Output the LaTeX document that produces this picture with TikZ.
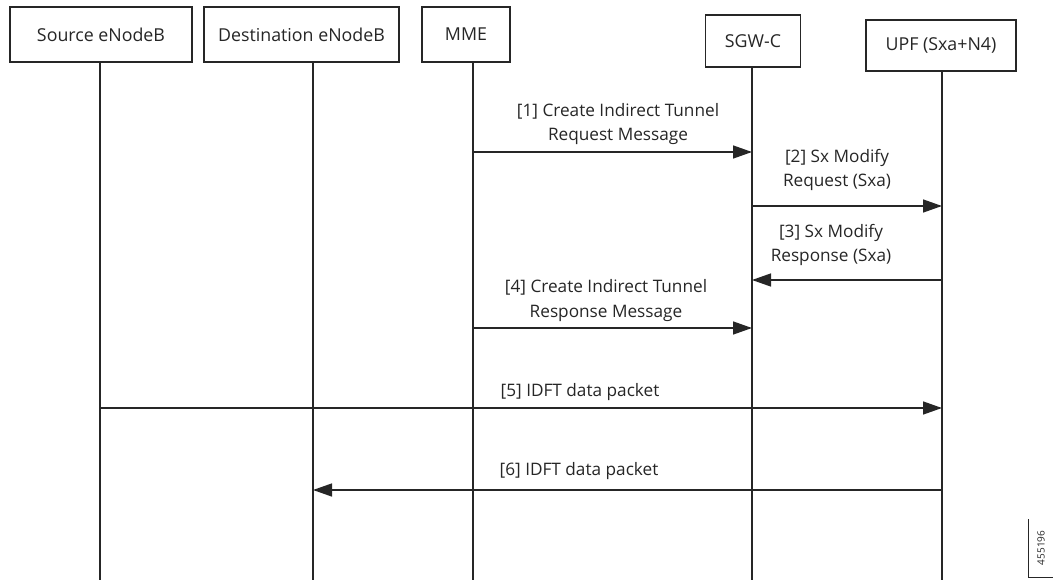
\documentclass[tikz,border=0pt]{standalone}
\usepackage{fontspec}
\setmainfont{Open Sans}
\usetikzlibrary{arrows.meta}
\definecolor{ink}{HTML}{262626}
\tikzset{
  actor/.style={draw=ink, line width=1.3pt, fill=white, inner sep=0pt,
    font=\fontsize{17.8}{20}\selectfont, text=ink},
  life/.style={draw=ink, line width=1.1pt},
  msg/.style={draw=ink, line width=1.4pt, -{Triangle[length=19pt,width=13pt]}},
  lbl/.style={font=\fontsize{17.2}{24.5}\selectfont, text=ink, align=center, inner sep=0pt},
}
\begin{document}
\begin{tikzpicture}[x=1pt,y=-1pt]
\useasboundingbox (0,0) rectangle (1053,580);
% actors
\node[actor, minimum width=182pt, minimum height=55pt] (src) at (101,34.5) {Source eNodeB};
\node[actor, minimum width=195pt, minimum height=55pt] (dst) at (301.5,34.5) {Destination eNodeB};
\node[actor, minimum width=88pt, minimum height=55pt] (mme) at (466,34.5) {MME};
\node[actor, minimum width=95pt, minimum height=52pt] (sgw) at (753,41) {SGW-C};
\node[actor, minimum width=150pt, minimum height=51pt] (upf) at (941,45.5) {UPF (Sxa+N4)};
% lifeline coordinates
\coordinate (srcT) at (100,62);   \coordinate (srcB) at (100,580);
\coordinate (dstT) at (313,62);   \coordinate (dstB) at (313,580);
\coordinate (mmeT) at (473,62);   \coordinate (mmeB) at (473,580);
\coordinate (sgwT) at (752,67);   \coordinate (sgwB) at (752,580);
\coordinate (upfT) at (942,71);   \coordinate (upfB) at (942,580);
\draw[life] (srcT) -- (srcB);
\draw[life] (dstT) -- (dstB);
\draw[life] (mmeT) -- (mmeB);
\draw[life] (sgwT) -- (sgwB);
\draw[life] (upfT) -- (upfB);
% messages
\coordinate (m1a) at (473,152); \coordinate (m1b) at (752,152);
\coordinate (m2a) at (752,206); \coordinate (m2b) at (942,206);
\coordinate (m3a) at (942,280); \coordinate (m3b) at (752,280);
\coordinate (m4a) at (473,328); \coordinate (m4b) at (752,328);
\coordinate (m5a) at (100,408); \coordinate (m5b) at (942,408);
\coordinate (m6a) at (942,490); \coordinate (m6b) at (313,490);
\draw[msg] (m1a) -- (m1b);
\draw[msg] (m2a) -- (m2b);
\draw[msg] (m3a) -- (m3b);
\draw[msg] (m4a) -- (m4b);
\draw[msg] (m5a) -- (m5b);
\draw[msg] (m6a) -- (m6b);
% labels
\node[lbl] (l1) at (618,124) {[1] Create Indirect Tunnel\\Request Message};
\node[lbl] (l2) at (837,170) {[2] Sx Modify\\Request (Sxa)};
\node[lbl] (l3) at (831,245) {[3] Sx Modify\\Response (Sxa)};
\node[lbl] (l4) at (606,300.5) {[4] Create Indirect Tunnel\\Response Message};
\node[lbl] (l5) at (580,392) {[5] IDFT data packet};
\node[lbl] (l6) at (579,471) {[6] IDFT data packet};
% figure id
\coordinate (fa) at (1028,519); \coordinate (fb) at (1028,577); \coordinate (fc) at (1053,577);
\draw[draw=ink, line width=0.6pt] (fa) -- (fb) -- (fc);
\node[rotate=90, font=\fontsize{10}{12}\selectfont, text=ink, inner sep=0pt] (fid) at (1041,548) {455196};
\end{tikzpicture}
\end{document}
